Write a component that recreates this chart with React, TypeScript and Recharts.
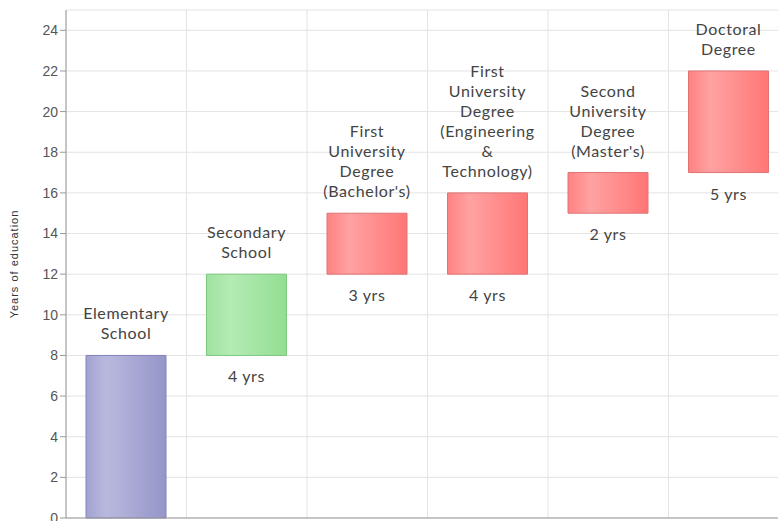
import { BarChart, Bar, XAxis, YAxis, CartesianGrid, Cell, LabelList } from "recharts";

// stage names (line breaks = how the label wraps)
const stages = [
  "Elementary\nSchool",
  "Secondary\nSchool",
  "First\nUniversity\nDegree\n(Bachelor's)",
  "First\nUniversity\nDegree\n(Engineering\n&\nTechnology)",
  "Second\nUniversity\nDegree\n(Master's)",
  "Doctoral\nDegree",
];
const startYear = [0, 8, 12, 12, 15, 17];
const endYear = [8, 12, 15, 16, 17, 22];
const kind = ["primary", "secondary", "tertiary", "tertiary", "tertiary", "tertiary"];
const yTicks = [0, 2, 4, 6, 8, 10, 12, 14, 16, 18, 20, 22, 24];

const FILLS: Record<string, { stops: [number, string][]; stroke: string }> = {
  primary: {
    stops: [[0, "#a2a2d2"], [0.25, "#b9b9de"], [1, "#9595c9"]],
    stroke: "#8383bd",
  },
  secondary: {
    stops: [[0, "#9fe29f"], [0.3, "#b5ebb5"], [1, "#92de92"]],
    stroke: "#7fc87f",
  },
  tertiary: {
    stops: [[0, "#ff8282"], [0.28, "#ffa2a2"], [1, "#ff7676"]],
    stroke: "#e07474",
  },
};

const data = stages.map((name, i) => ({
  name,
  range: [startYear[i], endYear[i]],
  years: endYear[i] - startYear[i],
  kind: kind[i],
}));

const LABEL_STYLE = {
  fill: "#444",
  fontSize: 16,
  fontFamily: "Lato, 'Open Sans', sans-serif",
  letterSpacing: 0.6,
};

function StageLabel(props: any) {
  const { x, y, width, height, index } = props;
  const d = data[index];
  const cx = x + width / 2;
  const lines = d.name.split("\n");
  const lh = 20;
  const top = Math.min(y, y + height);
  const bottom = Math.max(y, y + height);
  return (
    <g>
      {lines.map((ln: string, i: number) => (
        <text
          key={i}
          x={cx}
          y={top - 16 - (lines.length - 1 - i) * lh}
          textAnchor="middle"
          {...LABEL_STYLE}
        >
          {ln}
        </text>
      ))}
      {d.range[0] > 0 && (
        <text x={cx} y={bottom + 27} textAnchor="middle" {...LABEL_STYLE}>
          {`${d.years} yrs`}
        </text>
      )}
    </g>
  );
}

export default function App() {
  return (
    <div
      style={{
        position: "fixed",
        left: 0,
        top: 0,
        width: 778,
        height: 521,
        overflow: "hidden",
        background: "#fff",
      }}
    >
      <BarChart
        width={789}
        height={548}
        data={data}
        margin={{ top: 10, right: 0, bottom: 0, left: 0 }}
        barSize={80}
      >
        <defs>
          {Object.entries(FILLS).map(([k, f]) => (
            <linearGradient key={k} id={`grad-${k}`} x1="0" y1="0" x2="1" y2="0">
              {f.stops.map(([o, c]) => (
                <stop key={o} offset={o} stopColor={c} />
              ))}
            </linearGradient>
          ))}
        </defs>
        <CartesianGrid
          stroke="#e3e3e3"
          verticalCoordinatesGenerator={({ offset }: any) =>
            stages.map((_, i) => offset.left + (i * offset.width) / stages.length).concat(offset.left + offset.width)
          }
        />
        <XAxis dataKey="name" tick={false} tickLine={false} height={30} stroke="#999" />
        <YAxis
          width={66}
          domain={[0, 25]}
          ticks={yTicks}
          interval={0}
          stroke="#999"
          tickSize={6}
          tick={{ fill: "#555", fontSize: 14, fontFamily: "'Liberation Sans', Arial, sans-serif" }}
          label={{
            value: "Years of education",
            angle: -90,
            position: "insideLeft",
            offset: 14,
            style: {
              textAnchor: "middle",
              fill: "#333",
              fontSize: 11,
              fontFamily: "'Liberation Sans', Arial, sans-serif",
              letterSpacing: 1,
            },
          }}
        />
        <Bar dataKey="range" isAnimationActive={false}>
          {data.map((d, i) => (
            <Cell key={i} fill={`url(#grad-${d.kind})`} stroke={FILLS[d.kind].stroke} strokeWidth={1} />
          ))}
          <LabelList dataKey="years" content={<StageLabel />} />
        </Bar>
      </BarChart>
    </div>
  );
}
